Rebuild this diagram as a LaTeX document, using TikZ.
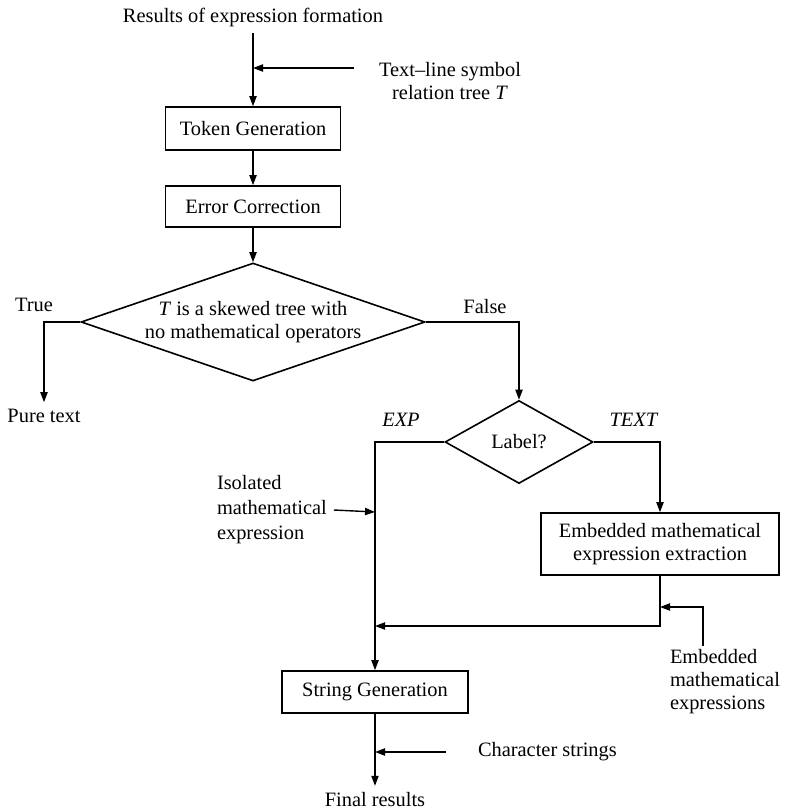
\documentclass[tikz,border=0pt]{standalone}
\usepackage{fontspec}
\setmainfont{Liberation Serif}
\usetikzlibrary{arrows.meta}
\usetikzlibrary{shapes.geometric}
\tikzset{>={Triangle[length=5pt,width=3.6pt]}}
\tikzset{
  block/.style={draw, line width=.8pt, rectangle, inner sep=0pt, align=center},
  decision/.style={draw, line width=.8pt, diamond, inner sep=0pt},
  flow/.style={->, line width=.7pt},
  caption/.style={inner sep=3.3pt, align=left},
}

\begin{document}
\begin{tikzpicture}[x=.5pt, y=-.5pt, font=\fontsize{10.2}{11.5}\selectfont]
  \useasboundingbox (0,0) rectangle (786,809);
  % boxes
  \node[caption] (results) at (253,17) {Results of expression formation};
  \node[block, minimum width=87.5pt, minimum height=21.5pt] (token) at (253,128.5) {Token Generation};
  \node[block, minimum width=87.5pt, minimum height=20.5pt] (error) at (253,206.5) {Error Correction};
  \node[decision, minimum width=172pt, minimum height=59pt] (skew) at (253,322) {};
  \node[align=center] (skewtext) at (skew) {\textit{T} is a skewed tree with\\no mathematical operators};
  \node[decision, minimum width=74pt, minimum height=41.5pt] (label) at (519,442) {Label?};
  \node[block, minimum width=119pt, minimum height=31pt] (embed) at (660,544) {Embedded mathematical\\expression extraction};
  \node[block, minimum width=93pt, minimum height=21pt] (string) at (375,692) {String Generation};
  \node[caption] (final) at (375,800) {Final results};
  \node[caption] (pure) at (44,416) {Pure text};
  % side texts
  \node[caption, align=center] (tltext) at (450,81) {Text--line symbol\\relation tree \textit{T}};
  \node[caption, anchor=west] (isotext) at (210,510) {Isolated\\[1pt]mathematical\\[1pt]expression};
  \node[caption, anchor=west] (embtext) at (663,682) {Embedded\\mathematical\\expressions};
  \node[caption, anchor=west] (chartext) at (471,752) {Character strings};
  % branch labels
  \node[caption] (truelab) at (34,305) {True};
  \node[caption] (falselab) at (485,307) {False};
  \node[caption] (explab) at (401,420) {\textit{EXP}};
  \node[caption] (textlab) at (634,420) {\textit{TEXT}};
  % joints
  \coordinate (tlsrc) at (354,68);
  \coordinate (tlin) at (253,68);
  \coordinate (isoin) at (375,512);
  \coordinate (merge) at (375,626);
  \coordinate (embin) at (660,607);
  \coordinate (embsrc) at (703,646);
  \coordinate (charsrc) at (446,752);
  \coordinate (charin) at (375,752);
  % lines
  \draw[flow] (results) -- (token);
  \draw[flow] (tlsrc) -- (tlin);
  \draw[flow] (token) -- (error);
  \draw[flow] (error) -- (skew);
  \draw[flow] (skew.west) -| (pure.north);
  \draw[flow] (skew.east) -| (label.north);
  \draw[flow] (label.west) -| (string.north);
  \draw[flow] (label.east) -| (embed.north);
  \draw[flow] (isotext.east) -- (isoin);
  \draw[flow] (embed.south) |- (merge);
  \draw[flow] (embsrc) |- (embin);
  \draw[flow] (string) -- (final);
  \draw[flow] (charsrc) -- (charin);
\end{tikzpicture}
\end{document}
